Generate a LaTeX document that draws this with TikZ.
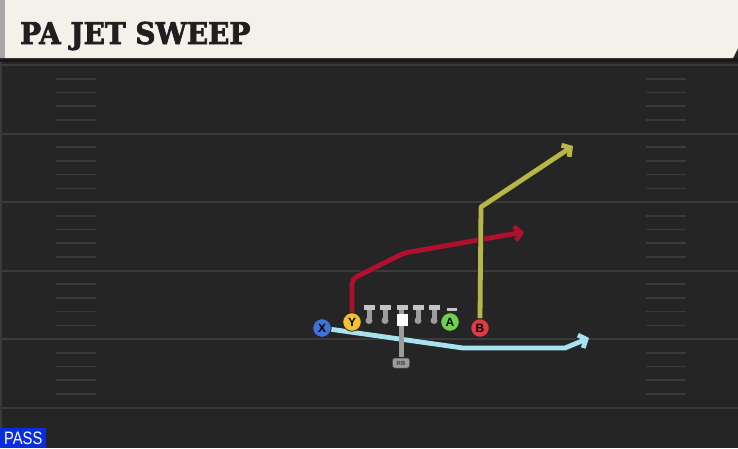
\documentclass[tikz,border=0pt]{standalone}
\usepackage{fontspec}
\usetikzlibrary{arrows.meta}
\newfontfamily\titlefont{DejaVu Serif}[BoldFeatures={FakeBold=2.5}]
\newfontfamily\labelfont{Liberation Sans}
\definecolor{fieldbg}{HTML}{252525}
\definecolor{yardline}{HTML}{3A3A3A}
\definecolor{headerbg}{HTML}{F4F1EA}
\definecolor{skyroute}{HTML}{A6E2EF}
\definecolor{crimsonroute}{HTML}{B0102E}
\definecolor{oliveroute}{HTML}{B7B747}
\definecolor{xblue}{HTML}{3F73D9}
\definecolor{yyellow}{HTML}{F2C12E}
\definecolor{agreen}{HTML}{6DD34F}
\definecolor{bred}{HTML}{E23A45}
\definecolor{passblue}{HTML}{0A2EDC}
\definecolor{linegray}{HTML}{C4C4C4}
\definecolor{stemgray}{HTML}{9C9C9C}
\pgfdeclarelayer{bg}
\pgfdeclarelayer{routes}
\pgfsetlayers{bg,routes,main}
\begin{document}
\begin{tikzpicture}[x=1pt,y=-1pt,
    player/.style={circle, draw=black!85, line width=0.8pt, minimum size=18.5pt, inner sep=0pt,
        font=\labelfont\bfseries\fontsize{12}{12}\selectfont},
    route/.style={line width=4.8pt, line join=round,
        -{Straight Barb[length=6pt,width=14pt,line width=4.8pt]},
        preaction={draw=black!85, line width=6.3pt, -{Straight Barb[length=6pt,width=14pt,line width=6.3pt]}}},
    yard/.style={yardline, line width=2pt},
    hash/.style={yardline, line width=1.6pt}]
    \useasboundingbox (0,0) rectangle (738,448);

    % Feld und Kopfzeile
    \begin{pgfonlayer}{bg}
        \fill[fieldbg] (0,0) rectangle (738,448);
        \fill[black!90] (0,58) rectangle (738,62);
        \fill[yardline] (0,62) rectangle (2,448);
        \foreach \y in {65,133.5,202,270.5,339,407.5} {
            \draw[yard] (2,\y) -- (738,\y);
        }
        \foreach \y in {65,133.5,202,270.5,339} {
            \foreach \k in {1,2,3,4} {
                \draw[hash] (56,\y+13.7*\k) -- (96,\y+13.7*\k);
                \draw[hash] (646,\y+13.7*\k) -- (686,\y+13.7*\k);
            }
        }
        \fill[headerbg] (0,0) -- (738,0) -- (738,48) -- (733,58) -- (0,58) -- cycle;
        \fill[black!35] (0,0) rectangle (5,58);
    \end{pgfonlayer}
    \node[anchor=base west, inner sep=0pt, xscale=0.93, font=\titlefont\bfseries\fontsize{30}{30}\selectfont, text=black!88] (title) at (20,44) {PA JET SWEEP};
    \node[anchor=south west, fill=passblue, minimum width=46pt, minimum height=20pt, inner sep=0pt] (pass) at (0,448) {};
    \node[text=white, inner sep=0pt, xscale=0.82, font=\labelfont\fontsize{18}{18}\selectfont] (passtext) at (pass.center) {PASS};

    % Linie
    \foreach \x in {369,385,418,434} {
        \fill[linegray] (\x-5.5,304.5) rectangle (\x+5.5,309.5);
        \fill[stemgray] (\x-2.5,309.5) rectangle (\x+2.5,320);
        \fill[stemgray] (\x,320.5) circle (3.5pt);
    }
    \fill[linegray] (396.5,304.5) rectangle (407.5,309.5);
    \fill[stemgray] (398.5,309.5) rectangle (403.5,357);
    \fill[white] (396.5,314) rectangle (407.5,326);
    \fill[linegray] (447,307.5) rectangle (457,310.5);
    \node[fill=stemgray, draw=black!70, line width=0.5pt, rounded corners=2.5pt, inner sep=0pt, minimum width=17pt, minimum height=10pt,
        font=\labelfont\bfseries\fontsize{6}{6}\selectfont, text=black!75] (RB) at (401,363) {RB};

    % Spieler
    \node[player, fill=xblue] (X) at (322,328) {X};
    \node[player, fill=yyellow] (Y) at (352,322) {Y};
    \node[player, fill=agreen] (A) at (450,322) {A};
    \node[player, fill=bred] (B) at (480,328) {B};

    % Routen
    \coordinate (x1) at (463,348);
    \coordinate (x2) at (565,348);
    \coordinate (x3) at (589,338);
    \coordinate (y1) at (352,279);
    \coordinate (y2) at (404,253);
    \coordinate (y3) at (524,232);
    \coordinate (b1) at (481,207);
    \coordinate (b2) at (573,146);
    \begin{pgfonlayer}{routes}
        \draw[route, skyroute] (X.center) -- (x1) -- (x2) -- (x3);
        \draw[route, crimsonroute, rounded corners=5pt] (Y.north) -- (y1) -- (y2) -- (y3);
        \draw[route, oliveroute] (B.north) -- (b1) -- (b2);
    \end{pgfonlayer}
\end{tikzpicture}
\end{document}
